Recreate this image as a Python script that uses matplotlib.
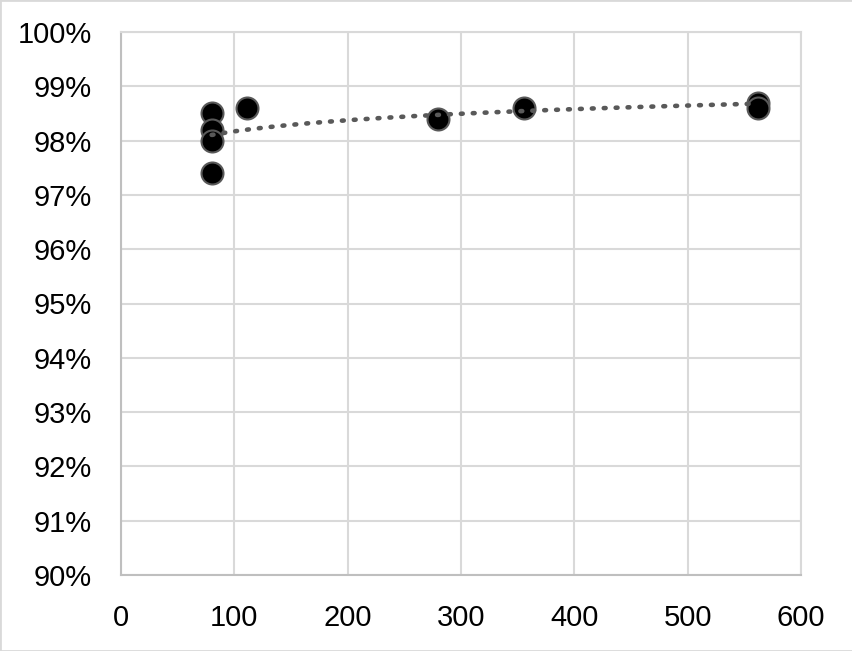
import numpy as np
import matplotlib
matplotlib.use("Agg")
import matplotlib.pyplot as plt
from matplotlib.ticker import FuncFormatter

x_vals = [80, 80, 80, 80, 111, 280, 356, 562, 562]
y_vals = [0.985, 0.982, 0.980, 0.974, 0.986, 0.984, 0.986, 0.987, 0.986]

x_ticks = [0, 100, 200, 300, 400, 500, 600]
y_ticks = [0.90, 0.91, 0.92, 0.93, 0.94, 0.95, 0.96, 0.97, 0.98, 0.99, 1.00]

plt.rcParams['font.family'] = ['Liberation Sans', 'DejaVu Sans']

fig = plt.figure(figsize=(8.53, 6.51), dpi=100)
ax = fig.add_axes([121/853, 1-575/651, (801-121)/853, (575-32)/651])

grid_c = '#d9d9d9'
ax.set_xlim(0, 600)
ax.set_ylim(0.90, 1.00)
ax.set_xticks(x_ticks)
ax.set_yticks(y_ticks)
ax.grid(True, color=grid_c, linewidth=1.5, zorder=0)
for s in ax.spines.values():
    s.set_color(grid_c)
    s.set_linewidth(1.5)
ax.spines['left'].set_color('#bfbfbf')
ax.spines['bottom'].set_color('#bfbfbf')
ax.tick_params(length=0, labelsize=21, colors='black')
ax.tick_params(axis='y', pad=21)
ax.tick_params(axis='x', pad=21)
ax.yaxis.set_major_formatter(FuncFormatter(lambda v, p: f"{v*100:.0f}%"))

ax.scatter(x_vals, y_vals, s=250, c='black', edgecolors='#595959', linewidths=1.5, zorder=3)

xa = np.array(x_vals, dtype=float)
ya = np.array(y_vals)
coef = np.polyfit(np.log(xa), ya, 1)
xt = np.linspace(xa.min(), xa.max(), 300)
ax.plot(xt, coef[0]*np.log(xt)+coef[1], color='#595959', linestyle=(0, (0.4, 2.2)),
        linewidth=3.3, dash_capstyle='round', zorder=4)

fig.patches.append(plt.Rectangle((0, 0), 1, 1, transform=fig.transFigure, fill=False,
                                 edgecolor='#d9d9d9', linewidth=2))
fig.savefig('out.png', dpi=100)
